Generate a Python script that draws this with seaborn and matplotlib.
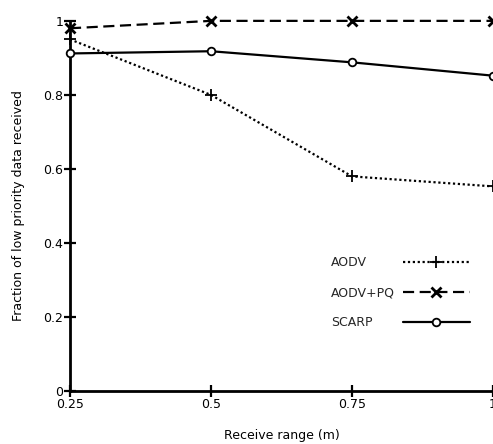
import matplotlib
matplotlib.use("Agg")
import matplotlib.pyplot as plt
import seaborn as sns
import pandas as pd
from matplotlib.lines import Line2D

receive_range = [0.25, 0.5, 0.75, 1.0]
aodv = [0.95, 0.80, 0.58, 0.553]
aodv_pq = [0.98, 1.0, 1.0, 1.0]
scarp = [0.912, 0.918, 0.888, 0.852]
series_names = ["AODV", "AODV+PQ", "SCARP"]
x_ticks = [0.25, 0.5, 0.75, 1.0]
x_tick_labels = ["0.25", "0.5", "0.75", "1"]
y_ticks = [0, 0.2, 0.4, 0.6, 0.8, 1.0]
y_tick_labels = ["0", "0.2", "0.4", "0.6", "0.8", "1"]

sns.set_theme(style="ticks")
plt.rcParams['font.family'] = ['DejaVu Sans']

df = pd.DataFrame({
    "x": receive_range * 3,
    "y": aodv + aodv_pq + scarp,
    "series": [s for s in series_names for _ in receive_range],
})

fig = plt.figure(figsize=(4.93, 4.44), dpi=100)
ax = fig.add_axes([0.142, 0.119, 0.858, 0.834])

styles = {
    "AODV": dict(ls=(0, (1, 1.2)), marker="+", ms=8, mew=1.3, mfc="black"),
    "AODV+PQ": dict(ls=(0, (5, 2.5)), marker="x", ms=7, mew=2.0, mfc="black"),
    "SCARP": dict(ls="-", marker="o", ms=5.5, mew=1.3, mfc="white"),
}
for name in series_names:
    sub = df[df.series == name]
    st = styles[name]
    sns.lineplot(data=sub, x="x", y="y", ax=ax, color="black", lw=1.6,
                 linestyle=st["ls"], marker=st["marker"], markersize=st["ms"],
                 markeredgewidth=st["mew"], markerfacecolor=st["mfc"],
                 markeredgecolor="black", clip_on=False, zorder=3)

ax.set_xlim(0.25, 1.0)
ax.set_ylim(0, 1.0)
ax.set_xticks(x_ticks)
ax.set_xticklabels(x_tick_labels)
ax.set_yticks(y_ticks)
ax.set_yticklabels(y_tick_labels)
for s in ["top", "right"]:
    ax.spines[s].set_visible(False)
for s in ["left", "bottom"]:
    ax.spines[s].set_linewidth(2.0)
    ax.spines[s].set_color("black")
ax.tick_params(direction="inout", length=8, width=1.6, colors="black",
               labelsize=9, pad=1)
ax.set_xlabel("Receive range (m)", fontsize=9, labelpad=13, color="black")
ax.set_ylabel("Fraction of low priority data received", fontsize=9,
              labelpad=13, color="black")

handles = []
for name in series_names:
    st = styles[name]
    handles.append(Line2D([], [], color="black", lw=1.6, linestyle=st["ls"],
                          marker=st["marker"], markersize=st["ms"],
                          markeredgewidth=st["mew"], markerfacecolor=st["mfc"],
                          markeredgecolor="black"))

common = dict(frameon=False, fontsize=9, labelspacing=1.35,
              borderpad=0, borderaxespad=0)
# handles (right-aligned, labels hidden)
leg_h = ax.legend(handles, series_names, loc="lower right",
                  bbox_to_anchor=(0.946, 0.168), markerfirst=False,
                  handlelength=5.4, handletextpad=0.5, **common)
for t in leg_h.get_texts():
    t.set_visible(False)
ax.add_artist(leg_h)
# labels (left-aligned)
blank = [Line2D([], [], color="none") for _ in series_names]
ax.legend(blank, series_names, loc="lower left",
          bbox_to_anchor=(0.617, 0.168), markerfirst=True,
          handlelength=0, handletextpad=0, **common)

fig.savefig("out.png", dpi=100)
